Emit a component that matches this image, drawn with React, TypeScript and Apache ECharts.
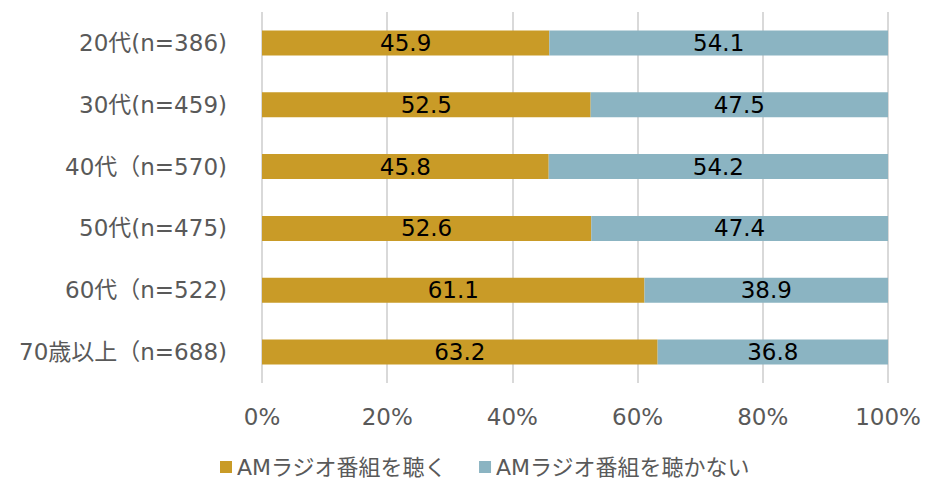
import React, { useEffect, useRef } from "react";
import * as echarts from "echarts";

const categories = [
  "20代(n=386)",
  "30代(n=459)",
  "40代（n=570)",
  "50代(n=475)",
  "60代（n=522)",
  "70歳以上（n=688)",
];
const listen = [45.9, 52.5, 45.8, 52.6, 61.1, 63.2];
const notListen = [54.1, 47.5, 54.2, 47.4, 38.9, 36.8];
const seriesNames = ["AMラジオ番組を聴く", "AMラジオ番組を聴かない"];

const FONT = "'DejaVu Sans', 'Noto Sans CJK JP', sans-serif";

export default function App() {
  const ref = useRef<HTMLDivElement>(null);
  useEffect(() => {
    if (!ref.current) return;
    const chart = echarts.init(ref.current, undefined, { renderer: "svg" });
    chart.setOption({
      animation: false,
      textStyle: { fontFamily: FONT },
      grid: { left: 262, right: 38, top: 12, bottom: 100, containLabel: false },
      legend: {
        top: 455,
        left: 220,
        padding: 0,
        itemWidth: 12,
        itemHeight: 12,
        itemGap: 32,
        icon: "rect",
        textStyle: { fontSize: 22, lineHeight: 24, color: "#595959", fontFamily: FONT },
        data: seriesNames,
      },
      xAxis: {
        type: "value",
        min: 0,
        max: 100,
        interval: 20,
        axisLabel: {
          formatter: "{value}%",
          fontSize: 23,
          color: "#595959",
          margin: 22,
          fontFamily: FONT,
        },
        axisLine: { show: false },
        axisTick: { show: false },
        splitLine: { lineStyle: { color: "#d9d9d9", width: 2 } },
      },
      yAxis: {
        type: "category",
        data: categories,
        inverse: true,
        axisLabel: { fontSize: 23, color: "#595959", margin: 35, fontFamily: FONT },
        axisLine: { show: false },
        axisTick: { show: false },
      },
      series: [
        {
          name: seriesNames[0],
          type: "bar",
          stack: "total",
          data: listen,
          barWidth: 25,
          itemStyle: { color: "#C99B27" },
          label: {
            show: true,
            position: "inside",
            fontSize: 23,
            color: "#000",
            fontFamily: FONT,
            formatter: (p: any) => p.value.toFixed(1),
          },
        },
        {
          name: seriesNames[1],
          type: "bar",
          stack: "total",
          data: notListen,
          barWidth: 25,
          itemStyle: { color: "#8BB4C2" },
          label: {
            show: true,
            position: "inside",
            fontSize: 23,
            color: "#000",
            fontFamily: FONT,
            formatter: (p: any) => p.value.toFixed(1),
          },
        },
      ],
    });
    return () => chart.dispose();
  }, []);
  return (
    <div
      ref={ref}
      style={{ position: "absolute", left: 0, top: 0, width: 926, height: 483 }}
    />
  );
}
